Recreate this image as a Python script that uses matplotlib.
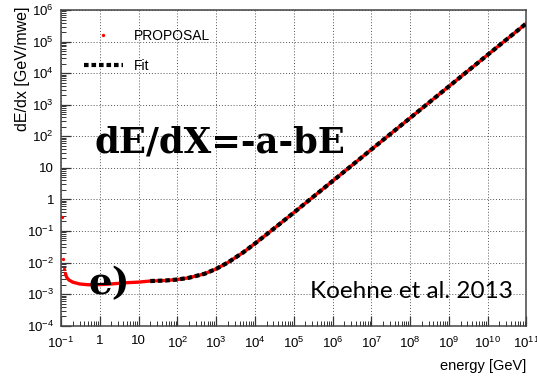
import numpy as np
import matplotlib
matplotlib.use('Agg')
import matplotlib.pyplot as plt
from matplotlib.ticker import LogLocator, FuncFormatter, NullFormatter

plt.rcParams['font.family'] = ['Liberation Sans', 'DejaVu Sans']
plt.rcParams['mathtext.default'] = 'regular'

# PROPOSAL dE/dx curve
energy = [0.13, 0.14, 0.16, 0.2, 0.3, 0.5, 1, 2, 5, 10, 20, 50, 100, 200,
          500, 1e3, 2e3, 5e3, 1e4, 3e4, 1e5, 3e5, 1e6, 1e7, 1e8, 1e9, 1e10, 1e11]
dedx = [0.0045, 0.0034, 0.0028, 0.0024, 0.0021, 0.00198, 0.002, 0.0021,
        0.0023, 0.0024, 0.0026, 0.0027, 0.0029, 0.0033, 0.0044, 0.0063,
        0.010, 0.021, 0.040, 0.116, 0.38, 1.14, 3.8, 38, 380, 3800, 3.8e4, 3.8e5]

# single PROPOSAL points at the lowest energies
low_energy = [0.104, 0.113, 0.121]
low_dedx = [0.27, 0.013, 0.0063]

# fit dE/dX = -a - bE, drawn from 20 GeV
fit_energy = [20, 50, 100, 200, 500, 1e3, 2e3, 5e3, 1e4, 3e4, 1e5, 3e5,
              1e6, 1e7, 1e8, 1e9, 1e10, 1e11]
fit_dedx = [0.0026, 0.0027, 0.0029, 0.0033, 0.0044, 0.0063, 0.010, 0.021,
            0.040, 0.116, 0.38, 1.14, 3.8, 38, 380, 3800, 3.8e4, 3.8e5]

fig = plt.figure(figsize=(5.37, 3.76), dpi=100)
ax = fig.add_axes([0.1136, 0.1338, 0.8668, 0.8396])

# red PROPOSAL line + single points
ax.plot(energy, dedx, color='#ff0000', lw=2.4, solid_capstyle='round', zorder=3)
ax.plot(low_energy, low_dedx, 'o', color='#ff0000', ms=2.4, mew=0, zorder=3)

# black dotted fit line
ax.plot(fit_energy, fit_dedx, color='black', lw=3.0, dashes=(1.1, 0.7), zorder=4)

# legend handles
ax.plot([], [], 'o', color='#ff0000', ms=2.4, mew=0, label='PROPOSAL')
ax.plot([], [], color='black', lw=3.0, dashes=(1.1, 0.7), label='Fit')
handles, labels = ax.get_legend_handles_labels()
ax.legend(handles[-2:], labels[-2:], loc='upper left', bbox_to_anchor=(0.049, 0.94),
          frameon=False, fontsize=10, handlelength=2.8, handletextpad=0.8,
          labelspacing=1.15, borderpad=0, borderaxespad=0)

ax.set_xscale('log')
ax.set_yscale('log')
ax.set_xlim(0.1, 1e11)
ax.set_ylim(1e-4, 1e6)


def decade_label(v, pos):
    e = int(round(np.log10(v)))
    if e == 0:
        return '1'
    if e == 1:
        return '10'
    return '$10^{%d}$' % e


ax.xaxis.set_major_locator(LogLocator(base=10, numticks=20))
ax.yaxis.set_major_locator(LogLocator(base=10, numticks=20))
ax.xaxis.set_minor_locator(LogLocator(base=10, subs=np.arange(2, 10), numticks=20))
ax.yaxis.set_minor_locator(LogLocator(base=10, subs=np.arange(2, 10), numticks=20))
ax.xaxis.set_major_formatter(FuncFormatter(decade_label))
ax.yaxis.set_major_formatter(FuncFormatter(decade_label))
ax.xaxis.set_minor_formatter(NullFormatter())
ax.yaxis.set_minor_formatter(NullFormatter())

ax.tick_params(which='both', direction='in', top=False, right=False,
               labelsize=9.5, color='#333333')
ax.tick_params(which='major', length=7, width=0.9)
ax.tick_params(which='minor', length=3.5, width=0.7)
ax.tick_params(axis='x', pad=7)
ax.tick_params(axis='y', pad=5)

for s in ax.spines.values():
    s.set_color('#444444')
    s.set_linewidth(1.1)

ax.grid(which='major', color='#555555', lw=0.7, linestyle=(0, (1, 2)))
ax.set_axisbelow(True)

ax.set_xlabel('energy [GeV]', loc='right', fontsize=10.5)
ax.set_ylabel('dE/dx [GeV/mwe]', loc='top', fontsize=11.5)
ax.xaxis.set_label_coords(1.0, -0.105)
ax.yaxis.set_label_coords(-0.066, 1.01)

# annotations
ax.text(0.073, 0.55, 'dE/dX=-a-bE', transform=ax.transAxes, fontsize=25.5,
        fontweight='bold', family='DejaVu Serif', va='baseline', ha='left', zorder=5)
ax.text(0.058, 0.10, 'e)', transform=ax.transAxes, fontsize=27,
        fontweight='bold', family='DejaVu Serif', va='baseline', ha='left', zorder=5)
ax.text(0.971, 0.088, 'Koehne et al. 2013', transform=ax.transAxes, fontsize=17.5,
        family='Lato', va='baseline', ha='right', zorder=5)

fig.savefig('out.png', dpi=100)
